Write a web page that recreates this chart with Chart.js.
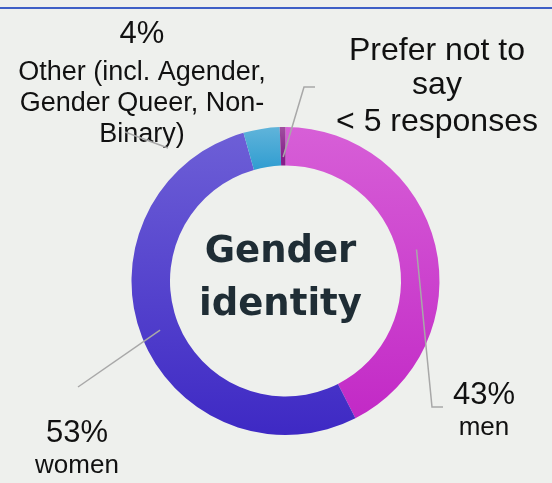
<!DOCTYPE html>
<html>
<head>
<meta charset="utf-8">
<script src="https://cdn.jsdelivr.net/npm/chart.js@4/dist/chart.umd.min.js"></script>
<style>
  body { margin: 0; background: #eef0ed; }
  #chart { display: block; }
</style>
</head>
<body>
<canvas id="chart" width="552" height="483"></canvas>
<script>
// Data (share of respondents, clockwise from 12 o'clock)
const categories = ['men', 'women', 'Other (incl. Agender, Gender Queer, Non-Binary)', 'Prefer not to say'];
const shares = [42.5, 53.1, 3.8, 0.6];
const pctLabels = ['43%', '53%', '4%', '< 5 responses'];
const centerTitle = ['Gender', 'identity'];

// Slice colours: vertical gradient, top colour -> bottom colour, over a part of the ring height
const sliceStyles = [
    {top: '#d75fd7', bottom: '#c126c5', from: 0, to: 1},
    {top: '#6e60d7', bottom: '#3e29c4', from: 0, to: 1},
    {top: '#60b4da', bottom: '#2c9bd0', from: 0, to: 0.15},
    {top: '#a0509f', bottom: '#861c8a', from: 0, to: 0.1}
];

const FONT = '"Liberation Sans", Arial, sans-serif';

// Label blocks around the ring (x centre, baselines)
const labelBlocks = [
    {x: 484, lines: [[pctLabels[0], 31, 404], ['men', 26, 435]]},
    {x: 77, lines: [[pctLabels[1], 31, 442], ['women', 26, 473]]},
    {x: 142, lines: [[pctLabels[2], 31, 43], ['Other (incl. Agender,', 27, 80], ['Gender Queer, Non-', 27, 111], ['Binary)', 27, 142]]},
    {x: 437, lines: [['Prefer not to', 32, 60], ['say', 32, 94], [pctLabels[3], 32, 131]]}
];

// Leader lines: start on a slice (index, fraction across ring), then elbow points
const leaders = [
    {index: 0, frac: 0.5, pts: [[432, 407], [443, 407]]},
    {index: 1, frac: 0.5, pts: [[78, 387]]},
    {index: 3, frac: 0.22, pts: [[304, 87], [315, 87]]},
    {start: [168, 148], pts: [[125, 132]]}
];

function sliceColor(ctx) {
    const chart = ctx.chart;
    const area = chart.chartArea;
    const s = sliceStyles[ctx.dataIndex];
    if (!area) return s.bottom;
    const h = area.bottom - area.top;
    const g = chart.ctx.createLinearGradient(0, area.top + h * s.from, 0, area.top + h * s.to);
    g.addColorStop(0, s.top);
    g.addColorStop(1, s.bottom);
    return g;
}

const decorPlugin = {
    id: 'decor',
    beforeDraw(chart) {
        const c = chart.ctx;
        c.save();
        c.fillStyle = '#eef0ed';
        c.fillRect(0, 0, chart.width, chart.height);
        c.fillStyle = '#3e5fc6';
        c.fillRect(0, 7, chart.width, 2);
        c.restore();
    },
    afterDatasetsDraw(chart) {
        const c = chart.ctx;
        const arcs = chart.getDatasetMeta(0).data;
        const cx = arcs[0].x, cy = arcs[0].y;
        c.save();

        // centre title
        c.fillStyle = '#1f2d35';
        c.textAlign = 'center';
        c.textBaseline = 'alphabetic';
        c.font = 'bold 37px "DejaVu Sans", Lato, sans-serif';
        c.fillText(centerTitle[0], cx - 5, cy - 19);
        c.fillText(centerTitle[1], cx - 5, cy + 34);

        // outside labels
        c.fillStyle = '#111111';
        labelBlocks.forEach(b => {
            b.lines.forEach(([t, size, y]) => {
                c.font = size + 'px ' + FONT;
                c.fillText(t, b.x, y);
            });
        });

        // leader lines
        c.strokeStyle = '#a8a8a8';
        c.lineWidth = 1.5;
        leaders.forEach(l => {
            let start = l.start;
            if (!start) {
                const a = arcs[l.index];
                const mid = (a.startAngle + a.endAngle) / 2;
                const r = a.innerRadius + (a.outerRadius - a.innerRadius) * l.frac;
                start = [a.x + Math.cos(mid) * r, a.y + Math.sin(mid) * r];
            }
            c.beginPath();
            c.moveTo(start[0], start[1]);
            l.pts.forEach(p => c.lineTo(p[0], p[1]));
            c.stroke();
        });
        c.restore();
    }
};

new Chart(document.getElementById('chart'), {
    type: 'doughnut',
    data: {
        labels: categories,
        datasets: [{
            data: shares,
            backgroundColor: sliceColor,
            borderWidth: 0,
            hoverOffset: 0
        }]
    },
    options: {
        responsive: false,
        animation: false,
        cutout: '75%',
        layout: {padding: {left: 131.5, right: 112.5, top: 127, bottom: 48}},
        plugins: {
            legend: {display: false},
            tooltip: {enabled: false}
        }
    },
    plugins: [decorPlugin]
});
</script>
</body>
</html>
